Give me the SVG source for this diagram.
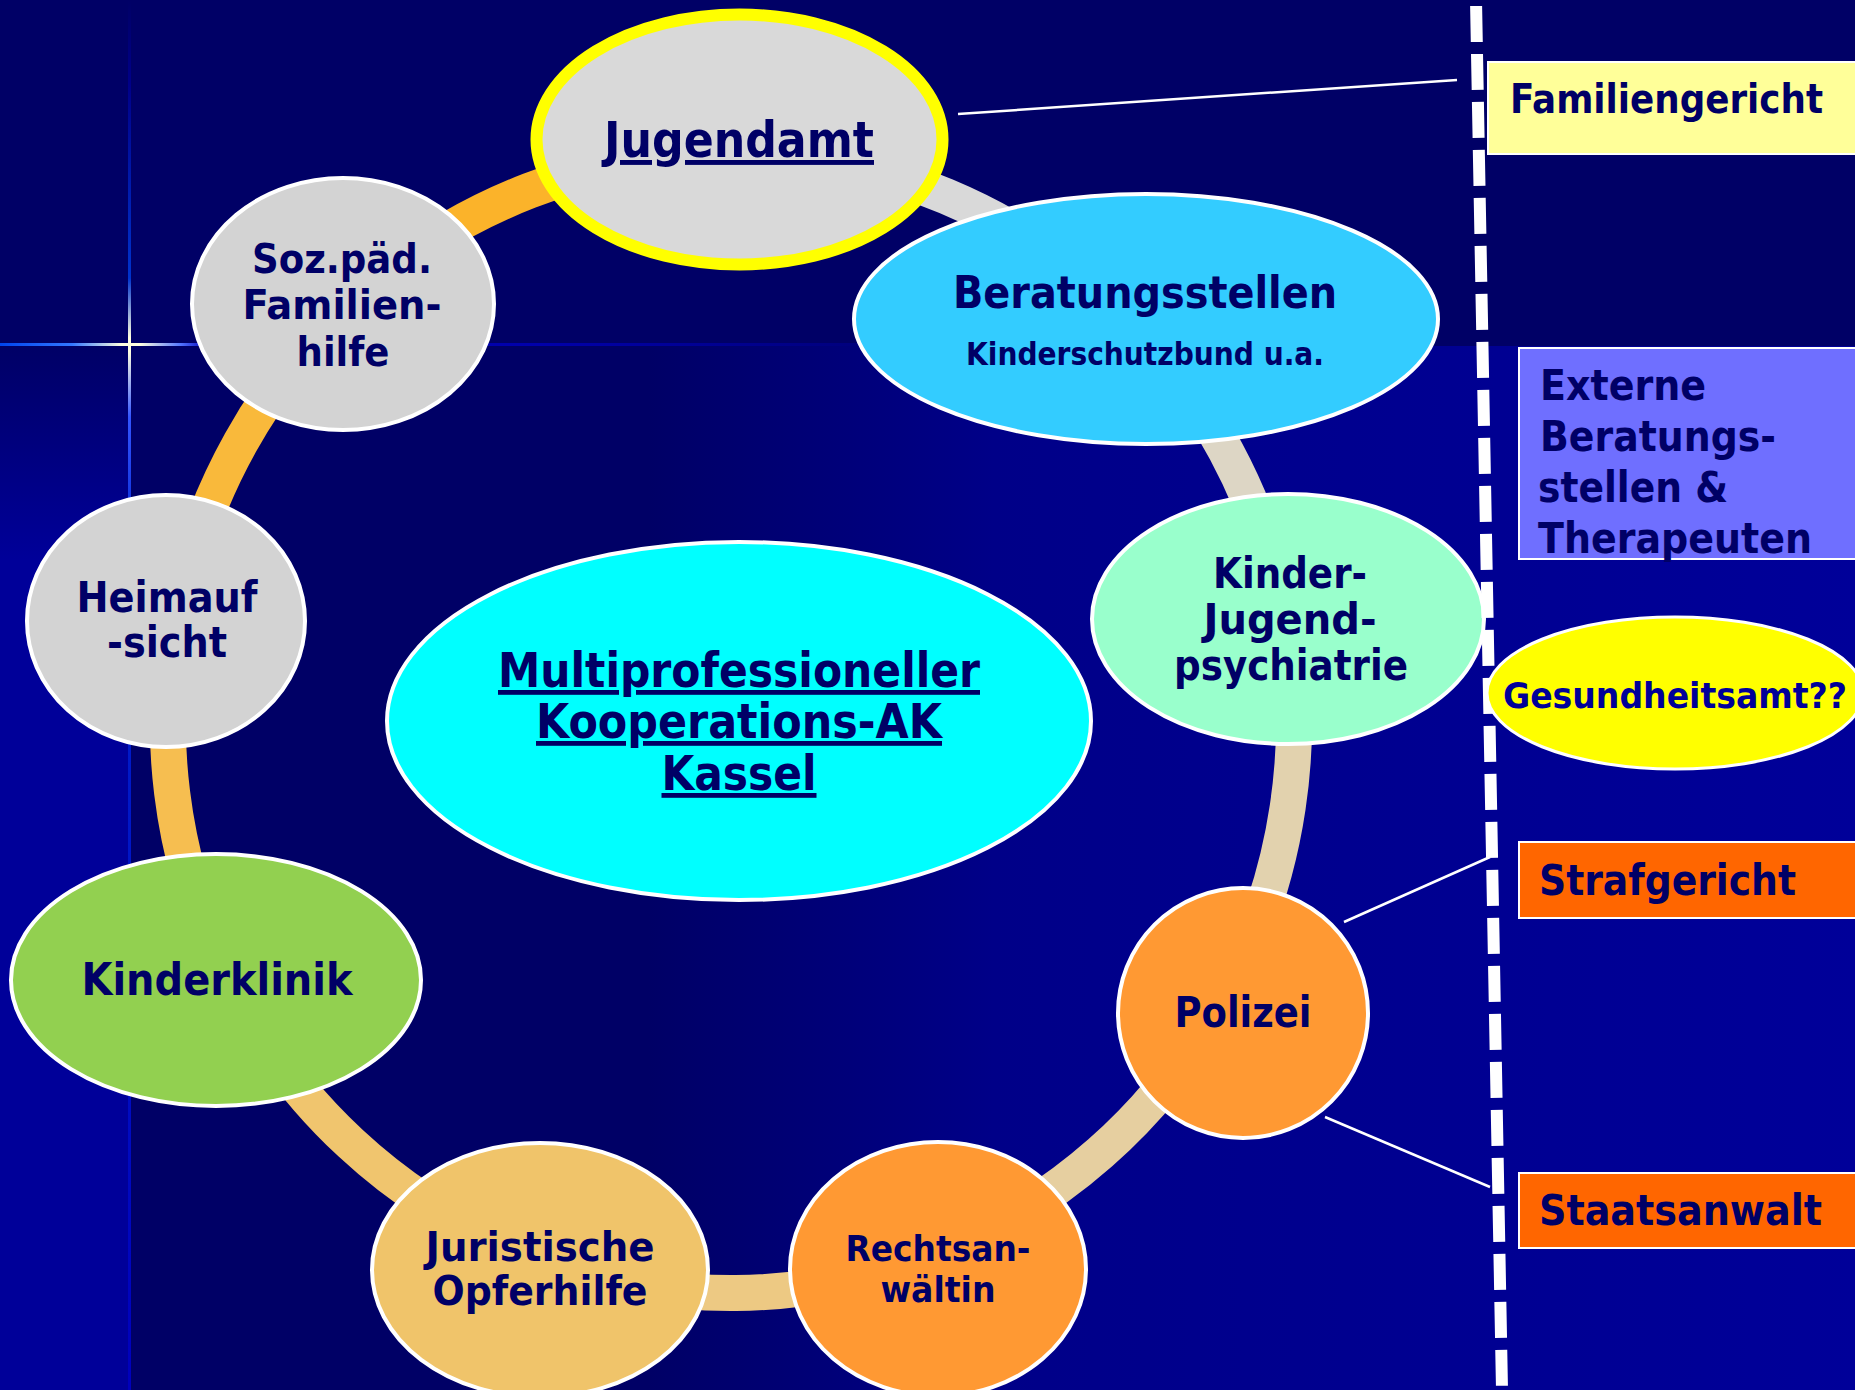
<svg xmlns="http://www.w3.org/2000/svg" width="1855" height="1390" viewBox="0 0 1855 1390">
<defs>
<style>
.t{font-family:"DejaVu Sans Condensed","DejaVu Sans",sans-serif;font-weight:bold;fill:#000066;text-anchor:middle}
.r{font-family:"DejaVu Sans Condensed","DejaVu Sans",sans-serif;font-weight:bold;fill:#000066}
.u{text-decoration:underline}
.node{stroke:#FFFFFF;stroke-width:4}
.box{stroke:#FFFFFF;stroke-width:2}
.ring{fill:none;stroke-width:36}
.thin{stroke:#FFFFFF;stroke-width:2.5;fill:none}
</style>
<linearGradient id="lowerGrad" gradientUnits="userSpaceOnUse" x1="131" y1="0" x2="1855" y2="0">
<stop offset="0" stop-color="#000066"/>
<stop offset="0.3" stop-color="#000066"/>
<stop offset="0.5" stop-color="#000088"/>
<stop offset="1" stop-color="#000099"/>
</linearGradient>
<linearGradient id="stripGrad" gradientUnits="userSpaceOnUse" x1="0" y1="346" x2="0" y2="560">
<stop offset="0" stop-color="#000066"/>
<stop offset="1" stop-color="#000099"/>
</linearGradient>
<linearGradient id="vGlow" gradientUnits="userSpaceOnUse" x1="0" y1="0" x2="0" y2="1390">
<stop offset="0" stop-color="#000066"/>
<stop offset="0.06" stop-color="#000088"/>
<stop offset="0.2" stop-color="#0033CC"/>
<stop offset="0.243" stop-color="#FFFFE0"/>
<stop offset="0.253" stop-color="#FFFFE0"/>
<stop offset="0.3" stop-color="#3355FF"/>
<stop offset="0.4" stop-color="#0022CC"/>
<stop offset="1" stop-color="#0000BB"/>
</linearGradient>
<linearGradient id="hGlow" gradientUnits="userSpaceOnUse" x1="0" y1="0" x2="900" y2="0">
<stop offset="0" stop-color="#0044EE"/>
<stop offset="0.08" stop-color="#3377FF"/>
<stop offset="0.135" stop-color="#FFFFE0"/>
<stop offset="0.155" stop-color="#FFFFE0"/>
<stop offset="0.2" stop-color="#5577FF"/>
<stop offset="0.23" stop-color="#0000BB"/>
<stop offset="0.6" stop-color="#0000AA"/>
<stop offset="1" stop-color="#000077"/>
</linearGradient>
</defs>

<g id="background">
<rect x="0" y="0" width="1855" height="1390" fill="#000066"/>
<rect x="131" y="346" width="1724" height="1044" fill="url(#lowerGrad)"/>
<rect x="0" y="346" width="128" height="1044" fill="url(#stripGrad)"/>
<rect x="128" y="0" width="3" height="1390" fill="url(#vGlow)"/>
<rect x="0" y="343" width="900" height="3" fill="url(#hGlow)"/>
</g>

<g id="connectors">
<path class="ring" stroke="#D9D9D9" d="M731,153 A563,570 0 0 1 1129,320"/>
<path class="ring" stroke="#DDD6C5" d="M1129,320 A563,570 0 0 1 1282,604.5"/>
<path class="ring" stroke="#E2D2AE" d="M1282,604.5 A563,570 0 0 1 1223,999"/>
<path class="ring" stroke="#E6CFA0" d="M1223,999 A563,570 0 0 1 933,1255"/>
<path class="ring" stroke="#EDC983" d="M933,1255 A563,570 0 0 1 538,1258.6"/>
<path class="ring" stroke="#F0C56E" d="M538,1258.6 A563,570 0 0 1 221,964"/>
<path class="ring" stroke="#F6BE50" d="M221,964 A563,570 0 0 1 178,614"/>
<path class="ring" stroke="#F9B93B" d="M178,614 A563,570 0 0 1 354,299.4"/>
<path class="ring" stroke="#FBB32A" d="M354,299.4 A563,570 0 0 1 731,153"/>
<line class="thin" x1="958" y1="114" x2="1457" y2="80"/>
<line class="thin" x1="1344" y1="922" x2="1490" y2="857"/>
<line class="thin" x1="1325" y1="1117" x2="1490" y2="1187"/>
</g>

<g id="jugendamt">
<ellipse cx="739.5" cy="139.5" rx="203" ry="125" fill="#D9D9D9" stroke="#FFFF00" stroke-width="12"/>
<text class="t u" x="739" y="157" font-size="49" textLength="270" lengthAdjust="spacingAndGlyphs">Jugendamt</text>
</g>

<g id="soz-paed-familienhilfe">
<ellipse class="node" cx="343" cy="304" rx="151" ry="126" fill="#D3D3D3"/>
<text class="t" font-size="41"><tspan x="342" y="273" textLength="180" lengthAdjust="spacingAndGlyphs">Soz.päd.</tspan><tspan x="342" y="319" textLength="199" lengthAdjust="spacingAndGlyphs">Familien-</tspan><tspan x="343" y="366" textLength="93" lengthAdjust="spacingAndGlyphs">hilfe</tspan></text>
</g>

<g id="heimaufsicht">
<ellipse class="node" cx="166" cy="621" rx="139" ry="126" fill="#D3D3D3"/>
<text class="t" font-size="42"><tspan x="167" y="612" textLength="181" lengthAdjust="spacingAndGlyphs">Heimauf</tspan><tspan x="167" y="657" textLength="120" lengthAdjust="spacingAndGlyphs">-sicht</tspan></text>
</g>

<g id="kinderklinik">
<ellipse class="node" cx="216" cy="980" rx="205" ry="126" fill="#92D050"/>
<text class="t" x="217" y="995" font-size="45" textLength="271" lengthAdjust="spacingAndGlyphs">Kinderklinik</text>
</g>

<g id="juristische-opferhilfe">
<ellipse class="node" cx="540" cy="1270" rx="168" ry="127" fill="#F0C46A"/>
<text class="t" font-size="41"><tspan x="540" y="1261" textLength="229" lengthAdjust="spacingAndGlyphs">Juristische</tspan><tspan x="540" y="1305" textLength="215" lengthAdjust="spacingAndGlyphs">Opferhilfe</tspan></text>
</g>

<g id="rechtsanwaeltin">
<ellipse class="node" cx="938" cy="1269" rx="148" ry="127" fill="#FF9933"/>
<text class="t" font-size="36"><tspan x="938" y="1261" textLength="185" lengthAdjust="spacingAndGlyphs">Rechtsan-</tspan><tspan x="938" y="1302" textLength="115" lengthAdjust="spacingAndGlyphs">wältin</tspan></text>
</g>

<g id="polizei">
<ellipse class="node" cx="1243" cy="1013" rx="125" ry="125" fill="#FF9933"/>
<text class="t" x="1243" y="1027" font-size="43" textLength="137" lengthAdjust="spacingAndGlyphs">Polizei</text>
</g>

<g id="kinder-jugend-psychiatrie">
<ellipse class="node" cx="1288" cy="619" rx="196" ry="125" fill="#99FFCC"/>
<text class="t" font-size="43"><tspan x="1290" y="588" textLength="154" lengthAdjust="spacingAndGlyphs">Kinder-</tspan><tspan x="1290" y="634" textLength="173" lengthAdjust="spacingAndGlyphs">Jugend-</tspan><tspan x="1291" y="680" textLength="234" lengthAdjust="spacingAndGlyphs">psychiatrie</tspan></text>
</g>

<g id="beratungsstellen">
<ellipse class="node" cx="1146" cy="319" rx="292" ry="125" fill="#33CCFF"/>
<text class="t" x="1145" y="308" font-size="45" textLength="384" lengthAdjust="spacingAndGlyphs">Beratungsstellen</text>
<text class="t" x="1145" y="365" font-size="32" textLength="358" lengthAdjust="spacingAndGlyphs">Kinderschutzbund u.a.</text>
</g>

<g id="kooperations-ak">
<ellipse class="node" cx="739" cy="721" rx="352" ry="179" fill="#00FFFF"/>
<text class="t u" font-size="48"><tspan x="739" y="687" textLength="482" lengthAdjust="spacingAndGlyphs">Multiprofessioneller</tspan><tspan x="739" y="738" textLength="406" lengthAdjust="spacingAndGlyphs">Kooperations-AK</tspan><tspan x="739" y="790" textLength="155" lengthAdjust="spacingAndGlyphs">Kassel</tspan></text>
</g>

<g id="divider">
<line x1="1476" y1="0" x2="1502" y2="1390" stroke="#FFFFFF" stroke-width="12" stroke-dasharray="36 12" stroke-dashoffset="42"/>
</g>

<g id="familiengericht">
<rect class="box" x="1488" y="62" width="380" height="92" fill="#FFFF99"/>
<text class="r" x="1510" y="113" font-size="41" textLength="313" lengthAdjust="spacingAndGlyphs">Familiengericht</text>
</g>

<g id="externe-beratungsstellen">
<rect class="box" x="1519" y="348" width="350" height="211" fill="#6F6FFF"/>
<text class="r" font-size="42"><tspan x="1540" y="400" textLength="166" lengthAdjust="spacingAndGlyphs">Externe</tspan><tspan x="1540" y="451" textLength="236" lengthAdjust="spacingAndGlyphs">Beratungs-</tspan><tspan x="1538" y="502" textLength="190" lengthAdjust="spacingAndGlyphs">stellen &amp;</tspan><tspan x="1538" y="553" textLength="274" lengthAdjust="spacingAndGlyphs">Therapeuten</tspan></text>
</g>

<g id="gesundheitsamt">
<ellipse cx="1675" cy="693" rx="188" ry="76" fill="#FFFF00" stroke="#FFFFFF" stroke-width="3"/>
<text class="r" x="1503" y="708" font-size="35" style="fill:#000099" textLength="344" lengthAdjust="spacingAndGlyphs">Gesundheitsamt??</text>
</g>

<g id="strafgericht">
<rect class="box" x="1519" y="842" width="350" height="76" fill="#FF6600"/>
<text class="r" x="1539" y="895" font-size="42" textLength="257" lengthAdjust="spacingAndGlyphs">Strafgericht</text>
</g>

<g id="staatsanwalt">
<rect class="box" x="1519" y="1173" width="350" height="75" fill="#FF6600"/>
<text class="r" x="1539" y="1225" font-size="42" textLength="283" lengthAdjust="spacingAndGlyphs">Staatsanwalt</text>
</g>
</svg>
